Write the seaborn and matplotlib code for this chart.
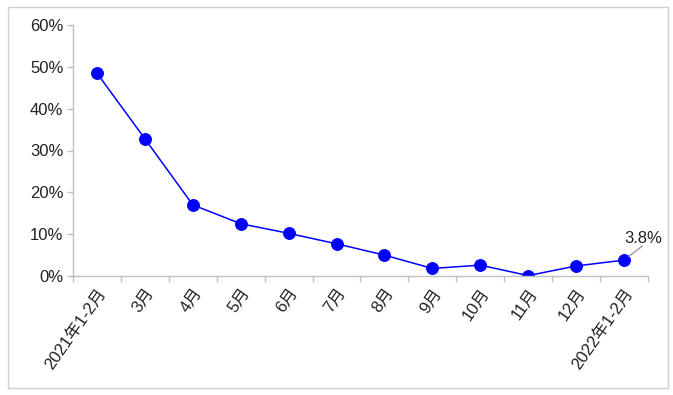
import matplotlib
matplotlib.use("Agg")
import matplotlib.pyplot as plt
import seaborn as sns
import pandas as pd
import numpy as np
from matplotlib.patches import Rectangle

categories = ["2021年1-2月", "3月", "4月", "5月", "6月", "7月", "8月", "9月",
              "10月", "11月", "12月", "2022年1-2月"]
values = [48.5, 32.8, 17.0, 12.5, 10.2, 7.7, 5.0, 1.8, 2.6, 0.1, 2.4, 3.8]
yticks = [0, 10, 20, 30, 40, 50, 60]
ytick_labels = ["0%", "10%", "20%", "30%", "40%", "50%", "60%"]

sns.set_theme(style="white")
plt.rcParams["font.family"] = ["Liberation Sans", "Noto Sans CJK SC", "DejaVu Sans"]

df = pd.DataFrame({"pos": np.arange(len(categories)), "value": values})

fig = plt.figure(figsize=(6.73, 3.95), dpi=100)
ax = fig.add_axes([73/673, 1-276/395, (648-73)/673, (276-25)/395])

sns.lineplot(data=df, x="pos", y="value", ax=ax, color="#0000FF", linewidth=1.1,
             marker="o", markersize=8.5, markeredgecolor="#0000FF", markerfacecolor="#0000FF")

fs = 12
ax.set_xlim(-0.5, len(categories) - 0.5)
ax.set_ylim(0, 60)
ax.set_yticks(yticks)
ax.set_yticklabels(ytick_labels, fontsize=fs, color="#222222")
ax.set_xticks(df["pos"])
ax.set_xticklabels(categories, rotation=55, ha="right", rotation_mode="anchor",
                   fontsize=fs, color="#222222")
ax.set_xticks(np.arange(-0.5, len(categories), 1.0), minor=True)
ax.tick_params(axis="x", which="major", length=0, pad=7)
ax.tick_params(axis="x", which="minor", length=4, color="#bfbfbf", width=1, bottom=True)
ax.tick_params(axis="y", length=4, color="#bfbfbf", width=1, left=True, pad=3)
ax.set_xlabel("")
ax.set_ylabel("")

for side in ["top", "right"]:
    ax.spines[side].set_visible(False)
for side in ["left", "bottom"]:
    ax.spines[side].set_color("#bfbfbf")
    ax.spines[side].set_linewidth(1)
ax.grid(False)

last = len(categories) - 1
# leader line
ax.annotate("", xy=(last, values[-1]), xytext=(13, 10), textcoords="offset points",
            arrowprops=dict(arrowstyle="-", color="#a6a6a6", lw=1.2, shrinkA=0, shrinkB=4.5),
            annotation_clip=False)
# label
ax.annotate(f"{values[-1]:.1f}%", xy=(last, values[-1]), xytext=(14, 12),
            textcoords="offset points", fontsize=fs, color="#222222",
            ha="center", va="baseline", annotation_clip=False)

fig.patches.append(Rectangle((8/673, 7/395), 660/673, 381/395, transform=fig.transFigure,
                             fill=False, edgecolor="#d0d0d0", linewidth=1))

fig.savefig("out.png", dpi=100)
